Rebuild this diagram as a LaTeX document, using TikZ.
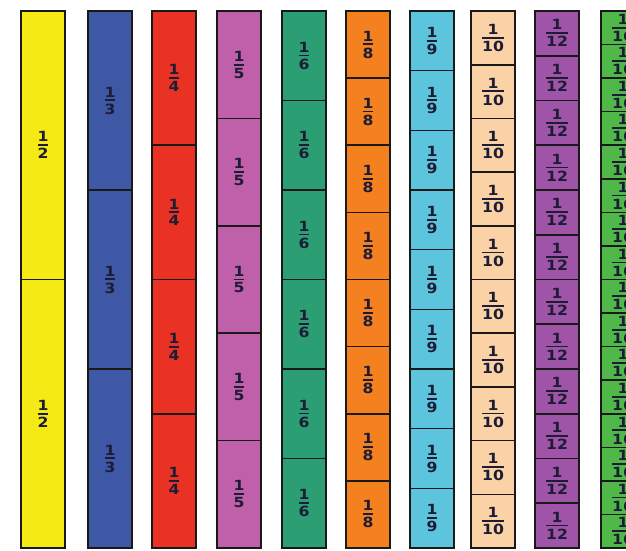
\documentclass[tikz,border=0pt]{standalone}
\usepackage{fontspec}
\setmainfont[FakeStretch=1.12]{DejaVu Sans}
\usepackage{xcolor}
\usepackage{tikz}
\usetikzlibrary{positioning}

\definecolor{halfyellow}{HTML}{F5EA14}
\definecolor{thirdblue}{HTML}{3E58A6}
\definecolor{quarterred}{HTML}{EA3224}
\definecolor{fifthpink}{HTML}{C060AA}
\definecolor{sixthgreen}{HTML}{2C9E74}
\definecolor{eighthorange}{HTML}{F58020}
\definecolor{ninthcyan}{HTML}{5CC4DC}
\definecolor{tenthpeach}{HTML}{FAD2A6}
\definecolor{twelfthpurple}{HTML}{A054A8}
\definecolor{sixteenthgreen}{HTML}{50B848}
\definecolor{inkdark}{HTML}{1C1C34}

% stacked unit fraction with a thick bar
\newcommand{\piecefrac}[1]{\vbox{\halign{\hfil##\hfil\cr 1\cr
  \noalign{\kern2.4pt\hrule height1.8pt\kern2.4pt}
  #1\cr}}}

\begin{document}
\begin{tikzpicture}[x=1pt,y=-1pt,
  piece/.style={draw=black!90,line width=1.6pt,text=inkdark,inner sep=0pt,
    minimum width=44pt,font=\fontsize{14}{16}\selectfont\bfseries}]
  \fill[white] (0,0) rectangle (626,550);
  \useasboundingbox (0,0) rectangle (626,550);
  \begin{scope}
    \clip (0,0) rectangle (626,550);
    % one column of equal pieces per denominator
    \foreach \xl/\n/\col in {21/2/halfyellow,88/3/thirdblue,152/4/quarterred,
        217/5/fifthpink,282/6/sixthgreen,346/8/eighthorange,410/9/ninthcyan,
        471/10/tenthpeach,535/12/twelfthpurple,601/16/sixteenthgreen}{
      \pgfmathsetmacro{\h}{537/\n}
      \foreach \k in {1,...,\n}{
        \node[piece,fill=\col,minimum height=\h pt] (p\n-\k)
          at (\xl+22,{11+(\k-0.5)*\h}) {\piecefrac{\n}};
      }
    }
  \end{scope}
\end{tikzpicture}
\end{document}
